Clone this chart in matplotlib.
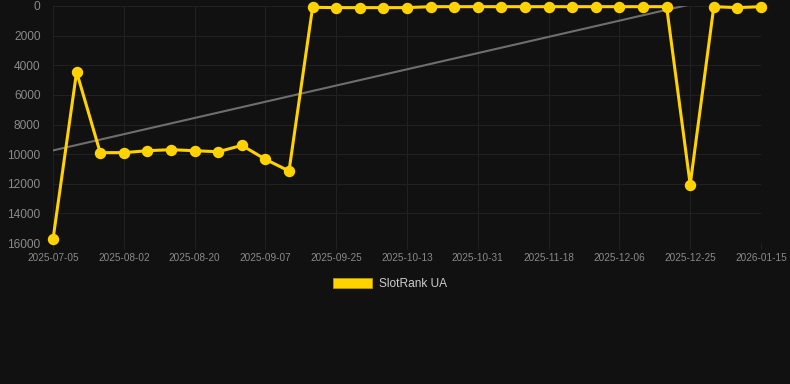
import matplotlib.pyplot as plt
from matplotlib.patches import Patch
import numpy as np

# rank per observation (lower is better), one point every few days
ranks = [15750, 4450, 9900, 9900, 9770, 9700, 9770, 9840, 9410, 10350, 11140,
         90, 110, 110, 110, 110, 45, 45, 45, 45, 45, 45, 45, 45, 45, 45, 45,
         12060, 45, 110, 45]
tick_labels = ['2025-07-05', '2025-08-02', '2025-08-20', '2025-09-07', '2025-09-25',
               '2025-10-13', '2025-10-31', '2025-11-18', '2025-12-06', '2025-12-25',
               '2026-01-15']
series_name = 'SlotRank UA'
# trend line value at first and last observation
trend_ends = [9750, -1200]

bg = '#111111'
gold = '#FFD200'

x = np.arange(len(ranks))

fig = plt.figure(figsize=(7.9, 3.84), dpi=100, facecolor=bg)
ax = fig.add_axes([53 / 790, 1 - 243 / 384, (761 - 53) / 790, (243 - 6) / 384])
ax.set_facecolor(bg)

ax.plot([x[0], x[-1]], trend_ends, color='#6e6e6e', lw=1.5, zorder=2)
ax.plot(x, ranks, color=gold, lw=2.2, marker='o', ms=7.2, zorder=3,
        solid_joinstyle='miter', clip_on=False)

ax.set_xlim(0, len(ranks) - 1)
ax.set_ylim(16000, 0)
ax.set_yticks(np.arange(0, 16001, 2000))
ax.set_xticks(x[::3])
ax.set_xticklabels(tick_labels)

ax.grid(True, color='#212121', lw=0.8)
ax.set_axisbelow(True)
for s in ax.spines.values():
    s.set_visible(False)
ax.tick_params(axis='y', length=0, pad=9, labelsize=8.6, labelcolor='#8a8a8a')
ax.tick_params(axis='x', length=4, color='#212121', pad=3, labelsize=7.2,
               labelcolor='#8a8a8a')
for lab in ax.get_xticklabels() + ax.get_yticklabels():
    lab.set_fontfamily('Liberation Sans')

handle = Patch(facecolor=gold, edgecolor='#b89600', lw=0.6)
leg = fig.legend([handle], [series_name], loc='center', bbox_to_anchor=(390 / 790, 1 - 284 / 384),
                 frameon=False, handlelength=3.3, handleheight=0.9, handletextpad=0.55,
                 prop={'family': 'Liberation Sans', 'size': 8.6})
for t in leg.get_texts():
    t.set_color('#cccccc')

fig.savefig('out.png', dpi=100, facecolor=bg)
